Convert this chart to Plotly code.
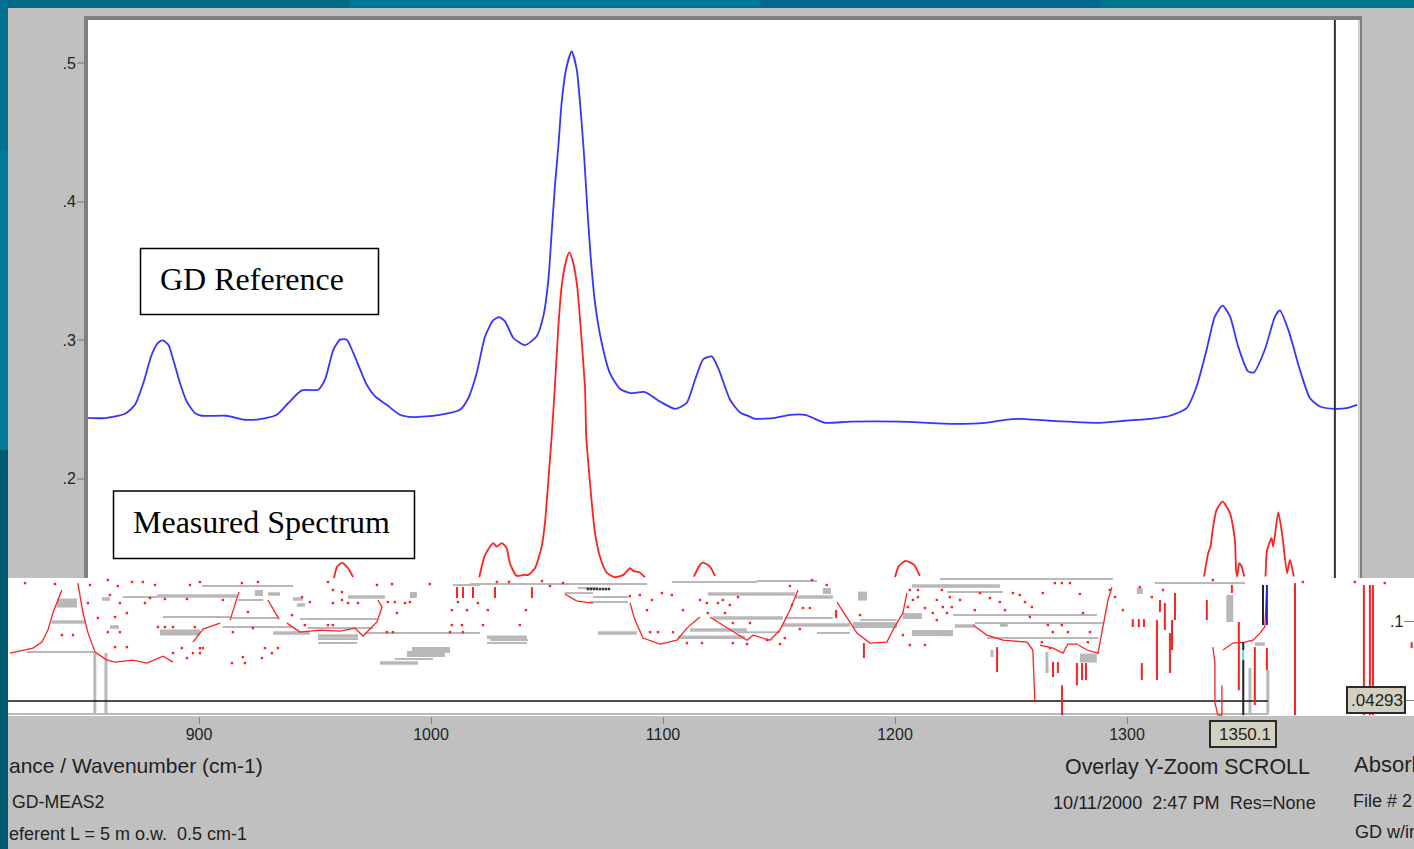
import plotly.graph_objects as go

# ---------- tick labels and texts ----------
x_ticks = [900, 1000, 1100, 1200, 1300]
y_ticks = [0.5, 0.4, 0.3, 0.2]
y_tick_text = [".5", ".4", ".3", ".2"]

# ---------- GD Reference (blue) ----------
ref_x = [852.2, 859.5, 868.1, 872.4, 876, 879.6, 882.5, 884.4, 886.8, 888.9, 891.8, 894.7, 898.3, 901.2, 911.9, 919.8,
         926.3, 933.5, 938.5, 944.3, 951.4, 954.3, 957.9, 960.8, 963.7, 966.5, 972.3, 975.9, 980.9, 986.6, 992.4, 1003.1,
         1012.5, 1016.1, 1019.7, 1023.3, 1026.8, 1029.4, 1031.9, 1035.5, 1040.5, 1045.5, 1048.4, 1050.6, 1052, 1053.4,
         1054.9, 1056.3, 1058.2, 1060.6, 1062.8, 1064.6, 1066, 1067.4, 1068.8, 1070.7, 1073.6, 1077.1, 1081.5, 1085.8,
         1092.2, 1098.7, 1105.2, 1110.2, 1113.8, 1117.4, 1121, 1123.8, 1128.9, 1133.2, 1137.2, 1139.6, 1148.3, 1154.7,
         1161.2, 1165.5, 1169.8, 1180.6, 1202.1, 1223.7, 1238.8, 1247.4, 1253.9, 1266.8, 1288.3, 1299.1, 1309.9, 1318.5,
         1325.7, 1330, 1334.3, 1337.9, 1341.2, 1344.4, 1347.9, 1352.2, 1354.7, 1359.4, 1363.8, 1365.9, 1369.5, 1374.5,
         1378.8, 1383.1, 1389.6, 1394.6, 1399.2]
ref_y = [.244, .2438, .2469, .2534, .2691, .2895, .2984, .2999, .2967, .2859, .2691, .2558, .2474, .2455, .2455, .2426,
         .2431, .2462, .2547, .2638, .2643, .2715, .2931, .3004, .3004, .2908, .2679, .2594, .2534, .2462, .2445, .246,
         .2498, .2583, .2763, .3027, .3143, .3167, .3136, .3016, .2965, .3027, .3172, .3437, .3774, .411,
         .4399, .4713, .4953, .5083, .4953, .464, .4327, .3942, .3605, .3268, .298, .2763, .2648, .2619,
         .2626, .2558, .2505, .2547, .2715, .2864, .2883, .2799, .257, .2479, .245, .2433, .244, .2462,
         .2462, .2433, .2404, .2412, .2412, .2397, .2404, .2426, .2433, .2419, .2404, .2419, .2433, .2455,
         .251, .2666, .2931, .3172, .3249, .3172, .2955, .2775, .2768, .2931, .3172, .3215, .3076, .2787,
         .2583, .2522, .2505, .251, .2534]

# ---------- Measured spectrum (red), intact upper part ----------
meas_upper = [
    ([1020.8, 1023.3, 1026.8, 1028.3, 1030.5, 1032.6, 1034, 1036.9, 1039.8, 1041.9, 1044.8, 1047.7, 1049.1, 1050.5, 1052,
      1053.4, 1054.9, 1056.3, 1058, 1059.6, 1061.3, 1063, 1064.9, 1066.4, 1066.9, 1067.8, 1069.3, 1070.7, 1072.8, 1075.7,
      1079.3, 1082.9, 1085.8, 1087.2, 1090.1, 1092.2],
     [.129, .1451, .1536, .1511, .1536, .15, .1391, .13, .1307, .1307, .1355, .1511, .168, .1969, .2303,
      .2666, .31, .3388, .3557, .3634, .3557, .3388, .3004, .2643, .2305, .2113, .1825, .1608, .1439, .1323,
      .129, .1307, .1355, .1336, .1323, .129]),
    ([1113.3, 1115.9, 1117.1, 1120.2, 1122.4], [.1295, .1379, .1396, .1367, .13]),
    ([958.2, 959.5, 961.6, 964.2, 966.4], [.1285, .1365, .1394, .1357, .1292]),
    ([1200, 1201.7, 1204.7, 1208.2, 1210.7], [.1292, .1372, .1408, .1379, .13]),
    ([1333.2, 1335, 1336, 1336.9, 1338.6, 1341.2, 1344.4, 1346.5, 1347, 1347.5, 1348.4, 1349.4, 1350.5],
     [.1295, .1464, .1511, .1632, .1776, .1836, .1752, .156, .1343, .1295, .1391, .1367, .1295]),
    ([1359.7, 1360.4, 1362.3, 1363, 1365.2, 1367, 1369, 1370.2, 1371.9],
     [.1295, .1487, .1572, .1511, .1757, .1583, .1319, .1415, .1295]),
]

# ---------- Measured spectrum, scrambled lower part ----------
meas_lower = [
    ([818.5, 828.4, 832.3, 834.9, 837, 840.9], [.0743, .0779, .0822, .0909, .1032, .1198]),
    ([847.8, 850, 852.2, 855.2, 860.3, 863.8, 871.5, 877.6, 884.5, 888.8],
     [.1248, .1032, .0887, .075, .0692, .0678, .0692, .0671, .0721, .0678]),
    ([897.4, 901.7, 909.1], [.0822, .0916, .0959]),
    ([913.4, 917.2], [.0981, .1183]),
    ([929.7, 934.5], [.1126, .0988]),
    ([937.9, 943.5, 952.2, 960.8, 967.2, 970.7, 976.7, 978.9, 977.1],
     [.0959, .0894, .0909, .0902, .0923, .0866, .0967, .1075, .1126]),
    ([1057.7, 1062.9, 1069.8], [.1169, .1118, .1104]),
    ([1085.8, 1087.9, 1091.4, 1098.7, 1106, 1110.3, 1115.9], [.1104, .0981, .0851, .0808, .0836, .0923, .1003]),
    ([1120.2, 1128.9, 1136.2, 1138.8, 1146.1, 1150.4, 1154.7, 1158.2],
     [.1003, .0909, .0836, .0872, .0836, .0909, .1053, .1198]),
    ([1175, 1179.3, 1183.6, 1189.2, 1196.5, 1199.1, 1203.4, 1205.1],
     [.1111, .1003, .0887, .0815, .0822, .0909, .1032, .1176]),
    ([1233.6, 1239.6, 1246.5, 1256.9, 1259.4, 1260.3], [.0945, .0873, .0836, .0822, .0765, .0389]),
    ([1262.5, 1268.1, 1272.4, 1274.5, 1278.4, 1282.7, 1287.5, 1288.3, 1289.6, 1291.8, 1293.5],
     [.0801, .0779, .0743, .0808, .0808, .0765, .0743, .0815, .0931, .1126, .1219]),
    ([1337, 1337.9, 1337.9, 1339.2, 1340.9, 1340.9], [.0786, .0671, .0382, .0295, .0295, .0511]),
    ([1341.4, 1345.7, 1350.8, 1354.3, 1357.3, 1359.4, 1360.3], [.0765, .0815, .0822, .0836, .0887, .0931, .1234]),
]

# vertical red strokes: wavenumber, low, high
spike_x = [1186.6, 1272, 1244, 1268.1, 1270.2, 1278.4, 1280.6, 1282.3, 1302.5, 1305.1, 1307.3, 1306.4, 1312.9, 1314.2,
           1316.3, 1318.5, 1319.4, 1320.7, 1334.4, 1348.2, 1355.1, 1360.3, 1372.4, 1402.1, 1404.7, 1406, 1345.2, 1422.7,
           1011.2, 1013.8, 1018.1, 1027.6, 1043.5, 1174.6]
spike_lo = [.0707, .0295, .0606, .057, .0599, .0511, .0548, .0548, .0931, .0931, .0931, .0548, .0548, .104,
            .0909, .0599, .0765, .0981, .0981, .0475, .0367, .0621, .0295, .0295, .0295, .0295, .1176, .0779,
            .114, .114, .114, .114, .114, .0996]
spike_hi = [.0815, .0511, .0786, .0678, .0678, .0671, .0671, .0671, .0988, .0988, .0988, .0671, .0981, .1126,
            .1104, .0887, .0981, .1176, .1126, .0967, .0786, .0779, .1248, .1234, .1234, .1234, .1234, .0822,
            .1219, .1219, .1219, .1219, .1219, .1054]

# stray red dots
dot_x = [825, 837.9, 853, 860.7, 865, 871.1, 875.8, 881, 896.1, 900.4, 918.5, 925.4, 852.1, 861.6, 865.9, 868.9, 876.7,
         878.9, 885.3, 894.8, 856.4, 860.7, 865.9, 863.8, 840.9, 845.7, 863.8, 868.9, 882.3, 885.3, 888.8, 898.2, 900.4,
         901.7, 897.4, 900.4, 892.6, 888.8, 894.8, 921.1, 910.3, 914.6, 923.2, 928.4, 934, 931.4, 927.1, 918.9, 914.2,
         919.8, 944.4, 947.8, 940.1, 945.6, 955.6, 957.7, 961.6, 964.2, 968.5, 957.7, 961.6, 981.4, 984.4, 988.8, 990.9,
         985.3, 976.7, 983.2, 999.5, 1011.6, 1009, 1015.5, 1009, 1013.3, 1008.2, 1013.8, 955.6, 957.7, 981, 983.6,
         1022.4, 1024.5, 1020.2, 1038.3, 1040.9, 1028.4, 1033.6, 1047.8, 1051.3, 1056.9, 1085.7, 1090, 1093.1, 1095.2,
         1099.5, 1103.8, 1108.6, 1115.9, 1118.9, 1123.7, 1125.8, 1128.8, 1132.3, 1119.3, 1126.7, 1130.1, 1137.5, 1094.4,
         1097.8, 1104.3, 1110.3, 1116.8, 1130.1, 1144.8, 1136.2, 1150.4, 1152.5, 1159, 1160.3, 1163.3, 1155.6, 1164.2,
         1170.6, 1154.7, 1203.4, 1206.4, 1212.9, 1206.4, 1209.9, 1209.9, 1205.5, 1207.7, 1212.9, 1216.3, 1220.2, 1218,
         1223.6, 1218, 1222.4, 1184.9, 1220.6, 1224.5, 1228, 1236.6, 1240.9, 1245.2, 1250.8, 1253.8, 1256, 1259, 1263.7,
         1279.7, 1268.9, 1271.9, 1275.4, 1234.4, 1247.4, 1258.1, 1265.9, 1271.9, 1268, 1274.5, 1284, 1281, 1263.3,
         1266.8, 1283.1, 1292.6, 1294.8, 1298.2, 1305.5, 1310.7, 1315.5, 1337, 1375.8, 1398.2, 1411.1]
dot_y = [.1248, .1241, .1234, .127, .1227, .1256, .1256, .1234, .1234, .1256, .1248, .1256, .1104, .1162, .1104, .1032,
         .1104, .114, .1133, .1133, .0996, .0894, .0894, .1003, .0873, .0873, .0786, .0786, .0931, .0931, .0931, .0931,
         .0779, .0779, .0743, .0743, .0779, .0743, .0707, .1039, .1126, .0894, .0923, .0779, .0779, .0743, .0707, .0714,
         .0671, .0671, .1147, .1111, .1017, .0945, .1256, .1198, .1183, .1104, .1104, .1104, .1126, .1111, .1111, .1104,
         .1111, .1032, .1234, .1241, .1241, .1111, .1053, .1053, .0945, .0945, .0894, .0894, .0945, .0945, .0894, .0894,
         .0945, .1053, .1104, .0945, .1053, .1256, .1256, .1263, .1227, .1248, .1154, .1162, .1053, .1126,
         .1176, .1162, .1053, .1126, .1104, .1104, .1126, .109, .1147, .1032, .1032, .096, .096, .0894,
         .0894, .0894, .0815, .0815, .0815, .0837, .0808, .0808, .0851, .0916, .1068, .1068, .109, .127,
         .1234, .1227, .0873, .0801, .0801, .1198, .1198, .1147, .1075, .1126, .1068, .1032, .1198, .1126,
         .1147, .0981, .1032, .1017, .1075, .1075, .1126, .1176, .114, .1111, .1176, .1162, .1111, .1075, .1176,
         .1169, .1248, .1248, .1248, .1053, .1053, .1003, .0945, .0945, .0894, .0894, .0894, .1032, .0822,
         .0779, .0822, .1198, .1147, .1053, .1219, .1147, .1198, .127, .1256, .1256, .1248]

# scrambled grey runs: start, end, absorbance
heavy_x0 = [838.8, 1279.7, 1184]
heavy_x1 = [847.4, 1287, 1187.9]
heavy_y = [.1104, .0707, .1154]

wide_x0 = [924.1, 883.2, 990.9, 991.8, 989.6, 1168.9, 1181.8, 1203.4, 1207.3, 1304.2, 1219.3]
wide_x1 = [927.6, 900.4, 993.9, 1008.2, 1006, 1172.4, 1200.8, 1211.6, 1223.6, 1306.8, 1225]
wide_y = [.1176, .0891, .1162, .0765, .0736, .1191, .0945, .101, .0887, .1191, .0887]

mid_x0 = [836.6, 881.9, 861.6, 858.2, 929.7, 964.2, 951.3, 931.9, 978, 940.5, 942.2, 1119.3, 1156.8, 1121.5, 1151.2,
          1024.1, 1071.9, 1111.6, 1106.4, 1207.3, 1220.6, 1225.8, 1245.2, 1355.1]
mid_x1 = [850.8, 916.3, 865.5, 861.6, 934.9, 980.1, 968.5, 947.8, 994.4, 944.8, 945.7, 1156.8, 1173.2, 1151.7, 1180.6,
          1041.3, 1088.7, 1136.2, 1135.3, 1223.6, 1245.2, 1234.4, 1248.6, 1359.4]
mid_y = [.0967, .1154, .0931, .1133, .1169, .1147, .0866, .0887, .0671, .1133, .109, .1169, .1147, .0996, .0945,
         .0858, .0887, .0909, .0858, .1227, .1227, .0938, .0945, .0808]

thin_x0 = [825.8, 901.3, 867.2, 884.5, 914.2, 916.8, 910.3, 943.5, 946.9, 951.3, 951.3, 971.5, 1009.4, 984.4, 1016.8,
           1103.8, 1140.5, 1025.4, 1024.1, 1063.3, 1057.7, 1068.5, 1069.8, 1131.8, 1166.3, 1152.5, 1184.9, 1222.4, 1219.3,
           1312, 1225, 1234.4, 1239.6]
thin_x1 = [855.1, 940.5, 881.9, 914.2, 934, 927.6, 940.5, 976.7, 975, 968.5, 968.1, 1021.1, 1021.1, 1000.8, 1093.1,
           1140.5, 1166.3, 1041.8, 1041.3, 1071.9, 1069.8, 1084.9, 1084.9, 1150.4, 1180.6, 1173.2, 1200.8, 1246.5, 1293.9,
           1350.8, 1287, 1289.6, 1287.5]
thin_y = [.075, .1227, .1147, .1003, .0996, .1126, .0931, .0988, .0923, .0844, .0815, .0887, .1234, .07, .1241,
          .1256, .1263, .0837, .0815, .1212, .1176, .1111, .1147, .0894, .0887, .0996, .0981, .1183, .1277,
          .1248, .1017, .096, .0851]

# grey upright runs: wavenumber, low, high
grey_v_x = [855.1, 859.9, 1265.5, 1353, 1360.7, 1241.8]
grey_v_lo = [.0303, .0303, .0599, .0295, .0303, .0714]
grey_v_hi = [.0743, .0743, .075, .0635, .0621, .0765]
grey_block_x = [1344.3]
grey_block_lo = [.0967]
grey_block_hi = [.1162]

# speckle of dark pixels in the scrambled band
speck_x = [1067.6, 1068.9, 1070.2, 1071.5, 1072.8, 1074.1, 1075.4, 1076.7]
speck_y = [.1205, .1205, .1205, .1205, .1205, .1205, .1205, .1205]

# cursor
cursor_upper_x = 1389.6
cursor_x = 1350.1
cursor_y = .0397
baseline_y = .0303
tear_left, tear_right = 817.6, 1360.7
x_min, x_max = 817.67, 1423.7
y_min, y_max = .0289, .531

W, H = 1414, 849
L, R, T, B = 8, 1414, 20, 716
GREY = "#c0c0c0"
RED = "#ff2020"
BLUE = "#3535ff"
INK = "#222222"
LINE_GREY = "#b8b8b8"


def px(v):
    return v / W


def py(v):
    return (H - v) / H


def chain(segments):
    xs, ys = [], []
    for sx, sy in segments:
        xs += list(sx) + [None]
        ys += list(sy) + [None]
    return xs, ys


def runs(x0, x1, y):
    return chain([([a, b], [c, c]) for a, b, c in zip(x0, x1, y)])


def uprights(x, lo, hi):
    return chain([([a, a], [b, c]) for a, b, c in zip(x, lo, hi)])


def line(xs, ys, color, width, smooth=False):
    style = dict(color=color, width=width)
    if smooth:
        style.update(shape="spline", smoothing=0.6)
    return go.Scatter(x=xs, y=ys, mode="lines", hoverinfo="skip", line=style, connectgaps=False)


fig = go.Figure()

for x0, x1, y, w in [(thin_x0, thin_x1, thin_y, 2), (mid_x0, mid_x1, mid_y, 3.5),
                     (wide_x0, wide_x1, wide_y, 6), (heavy_x0, heavy_x1, heavy_y, 9)]:
    xs, ys = runs(x0, x1, y)
    fig.add_trace(line(xs, ys, LINE_GREY, w))

xs, ys = uprights(grey_v_x, grey_v_lo, grey_v_hi)
fig.add_trace(line(xs, ys, LINE_GREY, 3))
xs, ys = uprights(grey_block_x, grey_block_lo, grey_block_hi)
fig.add_trace(line(xs, ys, LINE_GREY, 7))

fig.add_trace(line([tear_left, tear_right], [baseline_y, baseline_y], LINE_GREY, 2))
fig.add_trace(line([tear_left, tear_right], [cursor_y, cursor_y], "#111111", 1.5))

xs, ys = chain(meas_lower)
fig.add_trace(line(xs, ys, RED, 1.3))
xs, ys = uprights(spike_x, spike_lo, spike_hi)
fig.add_trace(line(xs, ys, RED, 2))
fig.add_trace(go.Scatter(x=dot_x, y=dot_y, mode="markers", hoverinfo="skip",
                         marker=dict(color=RED, size=2.4, symbol="square", line=dict(width=0))))
fig.add_trace(go.Scatter(x=speck_x, y=speck_y, mode="markers", hoverinfo="skip",
                         marker=dict(color="#333333", size=2.5, symbol="square", line=dict(width=0))))

# cursor pieces in the scrambled band
fig.add_trace(line([cursor_x, cursor_x], [.0295, .0693], "#222222", 2))
fig.add_trace(line([cursor_x, cursor_x], [.0693, .0765], "#40e0e8", 2))
fig.add_trace(line([cursor_x, cursor_x], [.0765, .0822], "#222222", 2))
fig.add_trace(line([1358.6, 1358.6], [.0945, .1234], "#222222", 2))
fig.add_trace(line([1360.3, 1360.3], [.0945, .1234], "#2020e0", 2))

# intact upper traces
xs, ys = chain(meas_upper)
fig.add_trace(line(xs, ys, RED, 1.8, smooth=True))
fig.add_trace(line(ref_x, ref_y, BLUE, 1.8, smooth=True))
fig.add_trace(line([cursor_upper_x, cursor_upper_x], [.1285, y_max], "#333333", 2))

shapes = []


def rect(x0, y0, x1, y1, fill, layer="below", border=None, bw=0):
    shapes.append(dict(type="rect", xref="paper", yref="paper", x0=px(x0), x1=px(x1), y0=py(y0), y1=py(y1),
                       fillcolor=fill, layer=layer, line=dict(color=border or fill, width=bw)))


# backdrop
rect(0, 0, W, 8, "#00708f")
rect(0, 0, 350, 7, "#006a88")
rect(350, 0, 760, 7, "#007a98")
rect(760, 0, 1100, 7, "#00688a")
rect(1100, 0, W, 7, "#00758f")
rect(0, 0, 8, 150, "#00708f")
rect(0, 150, 8, 450, "#007a98")
rect(0, 450, 8, H, "#005a70")
# the window's white plot face
rect(88, 20, 1358, 578, "#ffffff")
# white sheet torn across the lower part
rect(8, 578, W, B, "#ffffff")
# frame
rect(84, 16, 1362, 20, "#808080")
rect(84, 16, 88, 578, "#808080")
rect(1358, 20, 1360, 578, "#cfcfcf")
rect(1360, 16, 1362, 578, "#808080")
# right-hand ticks
for y in (621, 700):
    rect(1404, y, W, y + 1, "#808080", layer="above")
# label boxes
rect(140.5, 248.5, 378.5, 314.5, "#ffffff", border="#000000", bw=1.5, layer="above")
rect(113.5, 491, 414.5, 558.5, "#ffffff", border="#000000", bw=1.5, layer="above")
rect(1347, 687, 1405, 713, "#d2d0c0", border="#2a2a2a", bw=2, layer="above")
rect(1210, 721, 1276, 747, "#d2d0c0", border="#2a2a2a", bw=2, layer="above")

SANS = "Liberation Sans, Arial, sans-serif"
SERIF = "Liberation Serif, Times New Roman, serif"
texts = [
    ("GD Reference", 159, 279, SERIF, 32, "#000000"),
    ("Measured Spectrum", 132, 522, SERIF, 32, "#000000"),
    ("ance / Wavenumber (cm-1)", 8, 765, SANS, 21, INK),
    ("GD-MEAS2", 11, 802, SANS, 17.7, INK),
    ("eferent L = 5 m o.w.  0.5 cm-1", 8, 834, SANS, 18, INK),
    ("Overlay Y-Zoom SCROLL", 1064, 767, SANS, 21.4, INK),
    ("10/11/2000  2:47 PM  Res=None", 1052, 803, SANS, 18.1, INK),
    ("Absorb", 1353, 764, SANS, 22, INK),
    ("File # 2", 1352, 801, SANS, 18, INK),
    ("GD w/ir", 1354, 832, SANS, 18, INK),
    (".1", 1389, 621, SANS, 16, INK),
    (".04293", 1350, 700, SANS, 17, INK),
    ("1350.1", 1218, 734, SANS, 17, INK),
]
annotations = [dict(text=t, x=px(x), y=py(y), xref="paper", yref="paper", xanchor="left", yanchor="middle",
                    showarrow=False, borderpad=0, font=dict(family=f, size=s, color=c))
               for t, x, y, f, s, c in texts]

fig.update_layout(
    width=W, height=H, autosize=False, showlegend=False,
    margin=dict(l=0, r=0, t=0, b=0, pad=0),
    paper_bgcolor=GREY, plot_bgcolor=GREY,
    shapes=shapes, annotations=annotations,
    xaxis=dict(domain=[L / W, R / W], range=[x_min, x_max], showgrid=False, zeroline=False, showline=False,
               tickmode="array", tickvals=x_ticks, ticktext=[str(v) for v in x_ticks],
               ticks="outside", ticklen=7, tickwidth=1, tickcolor="#808080", ticklabelstandoff=-3,
               tickfont=dict(family=SANS, size=16, color=INK), automargin=False),
    yaxis=dict(domain=[(H - B) / H, (H - T) / H], range=[y_min, y_max], showgrid=False, zeroline=False, showline=False,
               anchor="free", position=84 / W,
               tickmode="array", tickvals=y_ticks, ticktext=y_tick_text,
               ticks="outside", ticklen=7, tickwidth=2, tickcolor="#9a9a9a", ticklabelstandoff=-2,
               tickfont=dict(family=SANS, size=16, color=INK), automargin=False),
)

fig.write_html("out.html", config=dict(displayModeBar=False),
               post_script="document.documentElement.style.margin='0';document.body.style.margin='0';")
